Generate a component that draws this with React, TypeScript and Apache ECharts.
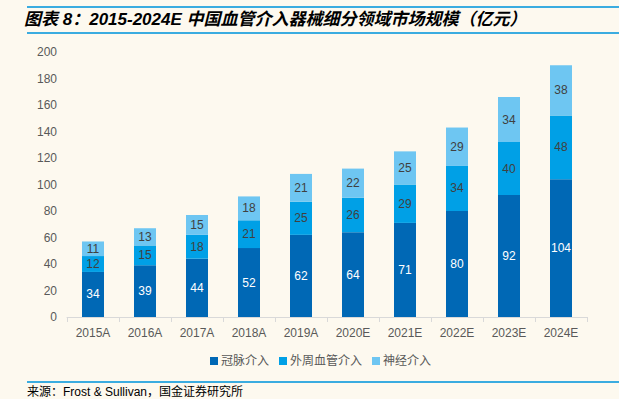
import React, { useEffect, useRef } from "react";
import * as echarts from "echarts";

const categories = ["2015A", "2016A", "2017A", "2018A", "2019A", "2020E", "2021E", "2022E", "2023E", "2024E"];
const coronary = [34, 39, 44, 52, 62, 64, 71, 80, 92, 104];
const peripheral = [12, 15, 18, 21, 25, 26, 29, 34, 40, 48];
const neuro = [11, 13, 15, 18, 21, 22, 25, 29, 34, 38];
const seriesNames = ["冠脉介入", "外周血管介入", "神经介入"];
const titleText = "图表 8：2015-2024E 中国血管介入器械细分领域市场规模（亿元）";
const sourceText = "来源：Frost & Sullivan，国金证券研究所";

const BG = "#FDF9EF";
const colors = ["#0068B5", "#00A0E6", "#6EC6F2"];
const FONT = "'Liberation Sans', 'Noto Sans CJK SC', sans-serif";

export default function App() {
  const ref = useRef<HTMLDivElement>(null);
  useEffect(() => {
    if (!ref.current) return;
    const chart = echarts.init(ref.current, undefined, { renderer: "svg" });
    const mk = (name: string, data: number[], color: string, labelColor: string) => ({
      name,
      type: "bar",
      stack: "total",
      data,
      barWidth: 22,
      itemStyle: { color },
      label: {
        show: true,
        position: "inside",
        color: labelColor,
        fontSize: 12,
        fontFamily: FONT,
      },
    });
    chart.setOption({
      animation: false,
      backgroundColor: BG,
      textStyle: { fontFamily: FONT },
      grid: { left: 67, right: 32, top: 52, bottom: 82 },
      legend: {
        bottom: 27,
        left: 205,
        itemWidth: 8,
        itemHeight: 8,
        itemGap: 10,
        icon: "rect",
        textStyle: { color: "#595959", fontSize: 12, fontFamily: FONT, padding: [0, 0, 0, -2] },
        data: seriesNames,
      },
      xAxis: {
        type: "category",
        data: categories,
        axisLine: { lineStyle: { color: "#D9D9D9" } },
        axisTick: { show: true, lineStyle: { color: "#D9D9D9" } },
        axisLabel: { color: "#595959", fontSize: 12, margin: 10 },
      },
      yAxis: {
        type: "value",
        min: 0,
        max: 200,
        interval: 20,
        splitLine: { show: false },
        axisLine: { show: false },
        axisTick: { show: false },
        axisLabel: { color: "#595959", fontSize: 12, margin: 10 },
      },
      series: [
        mk(seriesNames[0], coronary, colors[0], "#FFFFFF"),
        mk(seriesNames[1], peripheral, colors[1], "#404040"),
        mk(seriesNames[2], neuro, colors[2], "#404040"),
      ],
      graphic: [
        { type: "rect", shape: { x: 27, y: 6, width: 592, height: 2 }, style: { fill: "#3BACE0" } },
        { type: "rect", shape: { x: 27, y: 32, width: 592, height: 2 }, style: { fill: "#3BACE0" } },
        {
          type: "text",
          x: 24,
          y: 19,
          style: {
            text: titleText,
            fill: "#000000",
            font: "italic bold 17px 'Liberation Sans', 'Noto Sans CJK SC', sans-serif",
            verticalAlign: "middle",
          },
        },
        { type: "rect", shape: { x: 27, y: 381, width: 592, height: 2 }, style: { fill: "#3BACE0" } },
        {
          type: "text",
          x: 27,
          y: 392,
          style: {
            text: sourceText,
            fill: "#000000",
            font: "12px 'Liberation Sans', 'Noto Sans CJK SC', sans-serif",
            verticalAlign: "middle",
          },
        },
      ],
    });
    return () => chart.dispose();
  }, []);
  return (
    <div
      ref={ref}
      style={{ position: "fixed", left: 0, top: 0, width: 619, height: 399, background: BG }}
    />
  );
}
